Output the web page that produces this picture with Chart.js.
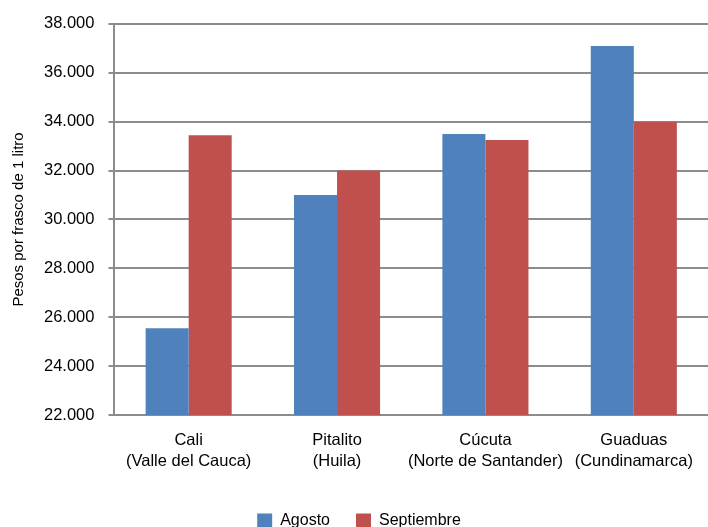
<!DOCTYPE html>
<html lang="es">
<head>
    <meta charset="UTF-8">
    <title>Precio frasco 1 litro</title>
    <script src="https://cdn.jsdelivr.net/npm/chart.js"></script>
    <style>
        html, body { margin: 0; padding: 0; background: #fff; }
    </style>
</head>
<body>
<canvas id="chart" width="708" height="527"></canvas>

<script>
    // Data
    const ciudades = [
        ['Cali', '(Valle del Cauca)'],
        ['Pitalito', '(Huila)'],
        ['Cúcuta', '(Norte de Santander)'],
        ['Guaduas', '(Cundinamarca)']
    ];
    const agosto = [25550, 31000, 33500, 37100];
    const septiembre = [33450, 32000, 33250, 34000];

    const fmt = v => v.toLocaleString('de-DE', { minimumFractionDigits: 0 }).replace(',', '.');
    const fontFamily = '"Liberation Sans", Arial, sans-serif';

    const ctx = document.getElementById('chart').getContext('2d');
    new Chart(ctx, {
        type: 'bar',
        data: {
            labels: ciudades,
            datasets: [
                {
                    label: 'Agosto',
                    data: agosto,
                    backgroundColor: '#4f81bd',
                    categoryPercentage: 0.58,
                    barPercentage: 1
                },
                {
                    label: 'Septiembre',
                    data: septiembre,
                    backgroundColor: '#c0504d',
                    categoryPercentage: 0.58,
                    barPercentage: 1
                }
            ]
        },
        options: {
            responsive: false,
            animation: false,
            layout: { padding: { top: 18, right: 0, bottom: -12, left: 10 } },
            plugins: {
                tooltip: { enabled: false },
                legend: {
                    position: 'bottom',
                    labels: {
                        boxWidth: 15,
                        boxHeight: 15,
                        padding: 26,
                        color: '#000',
                        font: { family: fontFamily, size: 16 }
                    }
                }
            },
            scales: {
                x: {
                    grid: { display: false, drawTicks: false },
                    border: { color: '#8c8c8c', width: 2 },
                    ticks: {
                        color: '#000',
                        padding: 15,
                        maxRotation: 0,
                        minRotation: 0,
                        autoSkip: false,
                        font: { family: fontFamily, size: 16.5, lineHeight: 1.27 }
                    }
                },
                y: {
                    min: 22000,
                    max: 38000,
                    grid: { color: '#8c8c8c', lineWidth: 2, tickLength: 6 },
                    border: { color: '#8c8c8c', width: 2 },
                    ticks: {
                        stepSize: 2000,
                        color: '#000',
                        padding: 14,
                        font: { family: fontFamily, size: 16.5 },
                        callback: v => fmt(v)
                    },
                    title: {
                        display: true,
                        text: 'Pesos por frasco de 1 litro',
                        color: '#000',
                        padding: { top: 0, bottom: 2 },
                        font: { family: fontFamily, size: 15 }
                    }
                }
            }
        }
    });
</script>
</body>
</html>
